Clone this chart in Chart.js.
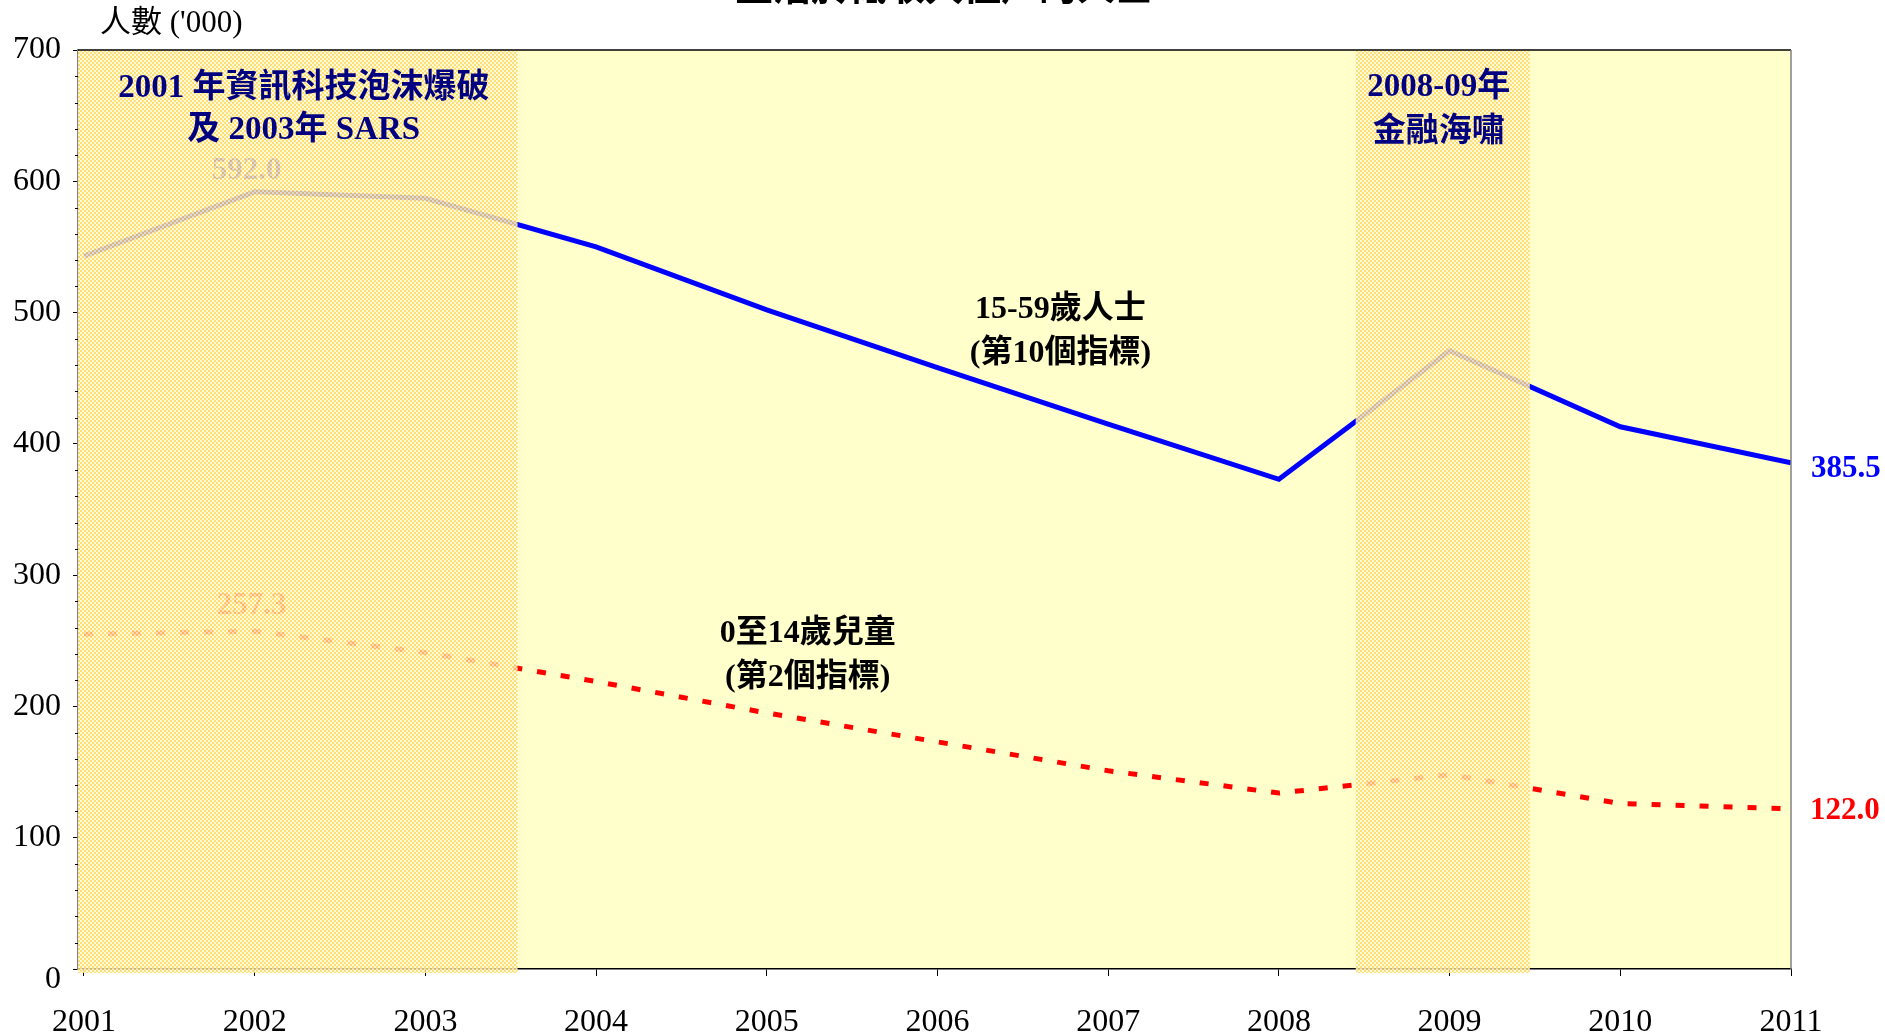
<!DOCTYPE html>
<html>
<head>
<meta charset="utf-8">
<script src="https://cdn.jsdelivr.net/npm/chart.js"></script>
<style>
html,body{margin:0;padding:0;background:#fff;}
#c{display:block;}
</style>
</head>
<body>
<canvas id="c" width="1885" height="1035"></canvas>
<script>
// ---- data ----
const years = [2001, 2002, 2003, 2004, 2005, 2006, 2007, 2008, 2009, 2010, 2011];
const adults15to59 = [543, 592.0, 587, 550, 502, 458, 415, 373, 471, 413, 385.5];
const children0to14 = [255, 257.3, 241, 219, 195, 173, 151, 134, 148, 126, 122.0];
const yTickValues = [0, 100, 200, 300, 400, 500, 600, 700];
const eventStart = [2000.965, 2008.45];
const eventEnd = [2003.54, 2009.47];
const eventLabels = [["2001 年資訊科技泡沫爆破", "及 2003年 SARS"], ["2008-09年", "金融海嘯"]];
const seriesLabels = [["15-59歲人士", "(第10個指標)"], ["0至14歲兒童", "(第2個指標)"]];
const chartTitle = "生活於低收入住戶的人士";
const yAxisTitle = "人數 ('000)";

const SERIF = '"Liberation Serif", "Times New Roman", "Noto Sans CJK TC", serif';

function makePattern(ctx) {
  const pc = document.createElement('canvas');
  pc.width = 4; pc.height = 4;
  const p = pc.getContext('2d');
  p.fillStyle = 'rgba(255,216,104,0.84)';
  p.fillRect(0, 0, 4, 4);
  p.clearRect(0, 0, 2, 2);
  p.clearRect(2, 2, 2, 2);
  p.fillStyle = 'rgba(255,250,215,0.88)';
  p.fillRect(0, 0, 2, 2);
  p.fillRect(2, 2, 2, 2);
  return ctx.createPattern(pc, 'repeat');
}

const decor = {
  id: 'decor',
  beforeDraw(chart) {
    const {ctx, chartArea: a} = chart;
    ctx.save();
    ctx.fillStyle = '#FFFFCC';
    ctx.fillRect(a.left, a.top, a.right - a.left, a.bottom - a.top);
    ctx.restore();
  },
  afterDatasetsDraw(chart) {
    const {ctx, chartArea: a, scales} = chart;
    const xs = scales.x, ys = scales.y;
    ctx.save();
    // value labels at 2002 (under the overlay)
    ctx.font = 'bold 31px ' + SERIF;
    ctx.textAlign = 'center';
    ctx.textBaseline = 'middle';
    ctx.fillStyle = '#0000FF';
    ctx.fillText(adults15to59[1].toFixed(1), xs.getPixelForValue(years[1]) - 8, ys.getPixelForValue(adults15to59[1]) - 21);
    ctx.fillStyle = '#FF0000';
    ctx.fillText(children0to14[1].toFixed(1), xs.getPixelForValue(years[1]) - 3, ys.getPixelForValue(children0to14[1]) - 25);

    // minor ticks on y axis
    ctx.strokeStyle = '#000';
    ctx.lineWidth = 1;
    for (let v = 0; v <= 700; v += 20) {
      if (v % 100 === 0) continue;
      const y = Math.round(ys.getPixelForValue(v)) + 0.5;
      ctx.beginPath();
      ctx.moveTo(a.left - 3, y);
      ctx.lineTo(a.left, y);
      ctx.stroke();
    }

    // hatched event overlays
    const pat = makePattern(ctx);
    ctx.fillStyle = pat;
    for (let i = 0; i < eventStart.length; i++) {
      const x0 = Math.max(a.left, xs.getPixelForValue(eventStart[i]));
      const x1 = xs.getPixelForValue(eventEnd[i]);
      ctx.fillRect(x0, a.top + 1, x1 - x0, a.bottom - a.top + 3);
    }

    // event annotations
    ctx.font = 'bold 33px ' + SERIF;
    ctx.fillStyle = '#000080';
    ctx.textAlign = 'center';
    ctx.textBaseline = 'middle';
    const ev1x = (xs.getPixelForValue(eventStart[0]) + xs.getPixelForValue(eventEnd[0])) / 2 + 6;
    ctx.fillText(eventLabels[0][0], ev1x, 88);
    ctx.fillText(eventLabels[0][1], ev1x, 130);
    const ev2x = (xs.getPixelForValue(eventStart[1]) + xs.getPixelForValue(eventEnd[1])) / 2 - 4;
    ctx.fillText(eventLabels[1][0], ev2x, 87);
    ctx.fillText(eventLabels[1][1], ev2x, 132);

    // series annotations
    ctx.font = 'bold 32px ' + SERIF;
    ctx.fillStyle = '#000';
    ctx.fillText(seriesLabels[0][0], xs.getPixelForValue(2006.72), ys.getPixelForValue(502));
    ctx.fillText(seriesLabels[0][1], xs.getPixelForValue(2006.72), ys.getPixelForValue(469));
    ctx.fillText(seriesLabels[1][0], xs.getPixelForValue(2005.24), ys.getPixelForValue(255));
    ctx.fillText(seriesLabels[1][1], xs.getPixelForValue(2005.24), ys.getPixelForValue(222));

    // y label "0" (sits a little below the axis in the reference)
    ctx.font = '32px ' + SERIF;
    ctx.textAlign = 'right';
    ctx.fillText(String(yTickValues[0]), a.left - 17, ys.getPixelForValue(yTickValues[0]) + 11);

    // end value labels
    ctx.font = 'bold 31px ' + SERIF;
    ctx.textAlign = 'left';
    const lx = xs.getPixelForValue(years[years.length - 1]) + 20;
    ctx.fillStyle = '#0000FF';
    ctx.fillText(adults15to59[adults15to59.length - 1].toFixed(1), lx, ys.getPixelForValue(adults15to59[adults15to59.length - 1]) + 6);
    ctx.fillStyle = '#FF0000';
    ctx.fillText(children0to14[children0to14.length - 1].toFixed(1), lx - 1, ys.getPixelForValue(children0to14[children0to14.length - 1]) + 2);

    // top and right border
    ctx.strokeStyle = '#000';
    ctx.lineWidth = 1.5;
    ctx.beginPath();
    ctx.moveTo(a.left, a.top);
    ctx.lineTo(a.right, a.top);
    ctx.stroke();
    ctx.strokeStyle = '#808080';
    ctx.lineWidth = 1.5;
    ctx.beginPath();
    ctx.moveTo(a.right, a.top);
    ctx.lineTo(a.right, a.bottom);
    ctx.stroke();

    // title (cut off at top) and y-axis title
    ctx.fillStyle = '#000';
    ctx.font = 'bold 38px ' + SERIF;
    ctx.textAlign = 'center';
    ctx.textBaseline = 'alphabetic';
    ctx.fillText(chartTitle, 944, 0);
    ctx.font = '31px ' + SERIF;
    ctx.textAlign = 'left';
    ctx.textBaseline = 'middle';
    ctx.fillText(yAxisTitle, 100, 24);
    ctx.restore();
  }
};

const ctx = document.getElementById('c').getContext('2d');
new Chart(ctx, {
  type: 'line',
  data: {
    datasets: [
      {
        label: seriesLabels[0][0],
        data: years.map((y, i) => ({x: y, y: adults15to59[i]})),
        borderColor: '#0000FF',
        borderWidth: 5,
        pointRadius: 0,
        tension: 0,
        fill: false
      },
      {
        label: seriesLabels[1][0],
        data: years.map((y, i) => ({x: y, y: children0to14[i]})),
        borderColor: '#FF0000',
        borderWidth: 5,
        borderDash: [9, 15],
        borderCapStyle: 'butt',
        pointRadius: 0,
        tension: 0,
        fill: false
      }
    ]
  },
  options: {
    responsive: false,
    animation: false,
    devicePixelRatio: 1,
    layout: {padding: {left: 0, right: 94, top: 50, bottom: 0}},
    plugins: {legend: {display: false}, tooltip: {enabled: false}, title: {display: false}},
    scales: {
      x: {
        type: 'linear',
        min: eventStart[0],
        max: years[years.length - 1],
        afterBuildTicks: s => { s.ticks = years.map(v => ({value: v})); },
        afterFit: s => { s.height = 66; },
        ticks: {
          callback: v => String(v),
          font: {family: SERIF, size: 32},
          color: '#000',
          padding: 27,
          maxRotation: 0,
          autoSkip: false
        },
        grid: {drawOnChartArea: false, tickLength: 7, color: '#000', tickWidth: 1},
        border: {color: '#000', width: 1.5}
      },
      y: {
        min: 0,
        max: 700,
        afterBuildTicks: s => { s.ticks = yTickValues.map(v => ({value: v})); },
        afterFit: s => { s.width = 78; },
        ticks: {
          callback: v => (v === 0 ? '' : String(v)),
          font: {family: SERIF, size: 32},
          color: '#000',
          padding: 12
        },
        grid: {drawOnChartArea: false, tickLength: 5, color: '#000', tickWidth: 1},
        border: {color: '#808080', width: 1.5}
      }
    }
  },
  plugins: [decor]
});
</script>
</body>
</html>
